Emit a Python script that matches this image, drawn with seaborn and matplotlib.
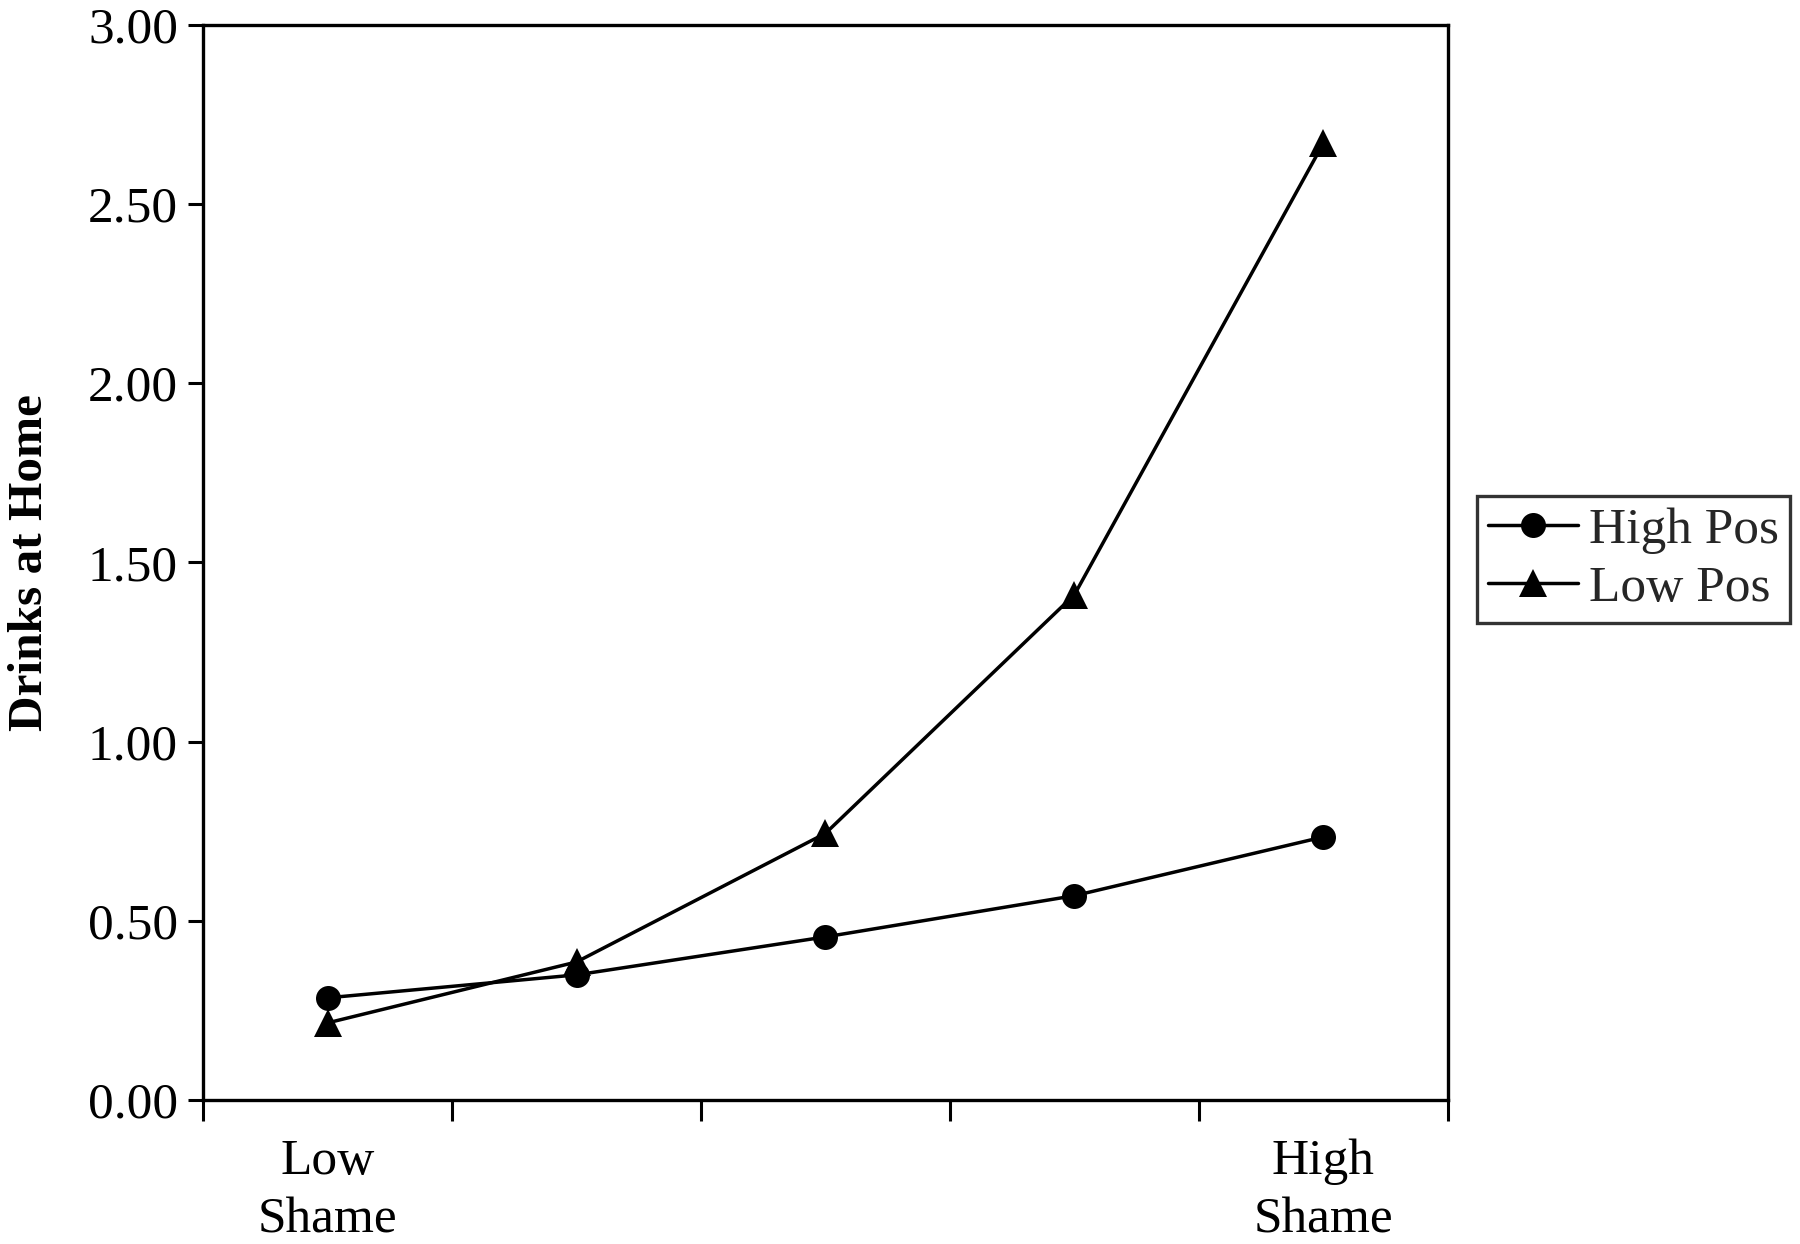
import matplotlib
matplotlib.use("Agg")
import matplotlib.pyplot as plt
import seaborn as sns
import pandas as pd
from matplotlib.ticker import FixedLocator, FormatStrFormatter

# ---- data ----
shame_levels = [1, 2, 3, 4, 5]
high_pos = [0.285, 0.349, 0.455, 0.570, 0.734]
low_pos = [0.215, 0.385, 0.744, 1.410, 2.670]
series_names = ["High Pos", "Low Pos"]
x_tick_labels = ["Low\nShame", "High\nShame"]
y_label = "Drinks at Home"

df = pd.DataFrame({
    "shame": shame_levels * 2,
    "drinks": high_pos + low_pos,
    "group": [series_names[0]] * len(shame_levels) + [series_names[1]] * len(shame_levels),
})

sns.set_theme(style="white")
plt.rcParams["font.family"] = ["Liberation Serif", "DejaVu Serif"]

fig = plt.figure(figsize=(18, 12.44), dpi=100)
ax = fig.add_axes([0.1128, 0.1158, 0.8044 - 0.1128, 0.98 - 0.1158])

sns.lineplot(
    data=df, x="shame", y="drinks", hue="group", style="group",
    markers={"High Pos": "o", "Low Pos": "^"},
    palette={"High Pos": "black", "Low Pos": "black"},
    dashes=False, linewidth=2.5, markersize=18, markeredgewidth=0,
    ax=ax, legend=True,
)
for ln in ax.lines:
    if ln.get_marker() == "^":
        ln.set_markersize(20)

ax.set_xlim(0.5, 5.5)
ax.set_ylim(0, 3.0)
ax.yaxis.set_major_locator(FixedLocator([0, 0.5, 1.0, 1.5, 2.0, 2.5, 3.0]))
ax.yaxis.set_major_formatter(FormatStrFormatter("%.2f"))

# major x ticks at category boundaries, labels on minor ticks at ends
ax.xaxis.set_major_locator(FixedLocator([0.5, 1.5, 2.5, 3.5, 4.5, 5.5]))
ax.set_xticklabels([])
ax.xaxis.set_minor_locator(FixedLocator([shame_levels[0], shame_levels[-1]]))
ax.set_xticklabels(x_tick_labels, minor=True)

ax.tick_params(axis="y", which="major", direction="out", length=11, width=2.2,
               labelsize=37, pad=7, left=True, color="black", labelcolor="black")
ax.tick_params(axis="x", which="major", direction="out", length=15, width=2.2,
               bottom=True, color="black")
ax.tick_params(axis="x", which="minor", length=0, labelsize=37, pad=28,
               labelcolor="black")
for lab in ax.get_xticklabels(minor=True):
    lab.set_linespacing(1.33)

for s in ax.spines.values():
    s.set_visible(True)
    s.set_color("black")
    s.set_linewidth(2.4)

ax.set_xlabel("")
ax.set_ylabel(y_label, fontsize=35.5, fontweight="bold", color="black")
ax.yaxis.set_label_coords(-0.121, 0.5)

handles, labels = ax.get_legend_handles_labels()
leg = ax.legend(handles, labels, loc="upper left",
                bbox_to_anchor=(0.8206, 0.6013), bbox_transform=fig.transFigure,
                borderaxespad=0, fontsize=37, frameon=True, fancybox=False,
                handlelength=1.75, handletextpad=0.2, borderpad=0.22,
                labelspacing=0.2)
leg.get_frame().set_edgecolor("black")
leg.get_frame().set_linewidth(2.4)
for h in leg.legend_handles:
    h.set_linewidth(2.5)

fig.savefig("out.png", dpi=100, facecolor="white")
